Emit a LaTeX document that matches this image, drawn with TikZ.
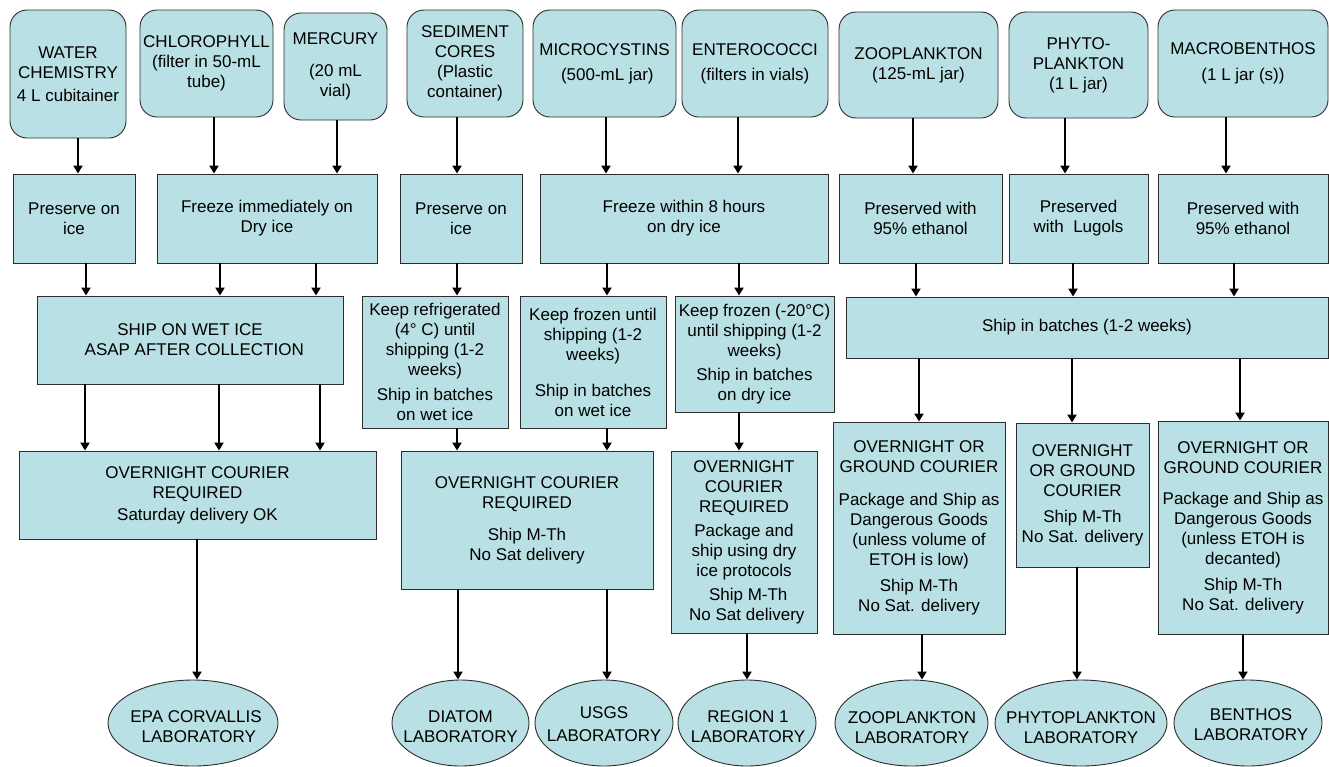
\documentclass[tikz,border=0pt]{standalone}
\usepackage{fontspec}
\setmainfont{Liberation Sans}
\usetikzlibrary{arrows.meta,shapes.geometric}
\definecolor{boxfill}{RGB}{185,224,228}
\definecolor{boxline}{RGB}{45,45,45}
\newcommand{\dfont}{\fontsize{17}{20}\selectfont}
\newcommand{\vconn}[3]{\draw[arr] (#1.south -| #3,0) -- (#2.north -| #3,0);}
\begin{document}
\begin{tikzpicture}[x=1pt,y=-1pt,
  base/.style={draw=boxline, fill=boxfill, line width=0.9pt, align=center, inner sep=1pt, font=\dfont},
  rbox/.style={base, rectangle, rounded corners=17pt},
  sbox/.style={base, rectangle},
  lab/.style={draw=boxline, fill=boxfill, line width=0.9pt, ellipse, inner sep=0pt},
  labtext/.style={align=center, font=\dfont, inner sep=0pt},
  arr/.style={line width=2pt, -{Triangle[width=9pt,length=8pt]}}]
\useasboundingbox (0,0) rectangle (1329,766);

% top row
\node[rbox, minimum width=116pt, minimum height=128pt] (wc) at (68,74) {WATER\\CHEMISTRY\\[3pt]4 L cubitainer};
\node[rbox, minimum width=133pt, minimum height=107pt] (chl) at (206.5,63.5) {CHLOROPHYLL\\(filter in 50-mL\\tube)};
\node[rbox, minimum width=103pt, minimum height=107pt] (hg) at (335.5,66.5) {MERCURY\\[12pt](20 mL\\vial)};
\node[rbox, minimum width=116pt, minimum height=107pt] (sed) at (465,63.5) {SEDIMENT\\CORES\\(Plastic\\container)};
\node[rbox, minimum width=143pt, minimum height=107pt] (mic) at (604.5,63.5) {MICROCYSTINS\\[5pt]\,\,(500-mL jar)};
\node[rbox, minimum width=146pt, minimum height=107pt] (ent) at (755,63.5) {ENTEROCOCCI\\[5pt](filters in vials)};
\node[rbox, minimum width=159pt, minimum height=106pt] (zoo) at (918.5,65) {ZOOPLANKTON\\(125-mL jar)};
\node[rbox, minimum width=139pt, minimum height=106pt] (phy) at (1078.5,65) {PHYTO-\\PLANKTON\\(1 L jar)};
\node[rbox, minimum width=170pt, minimum height=107pt] (mac) at (1243,63.5) {MACROBENTHOS\\[6pt](1 L jar (s))};

% second row
\node[sbox, minimum width=122pt, minimum height=89pt] (pA) at (74,218.5) {Preserve on\\ice};
\node[sbox, minimum width=220pt, minimum height=89pt] (fB) at (267,218.5) {Freeze immediately on\\Dry ice};
\node[sbox, minimum width=122pt, minimum height=89pt] (pC) at (461,218.5) {Preserve on\\ice};
\node[sbox, minimum width=288pt, minimum height=89pt] (fD) at (684,218.5) {Freeze within 8 hours\\on dry ice};
\node[sbox, minimum width=163pt, minimum height=89pt] (eE) at (920.5,218.5) {Preserved with\\95\% ethanol};
\node[sbox, minimum width=139pt, minimum height=89pt] (lF) at (1078.5,218.5) {Preserved\\with~ Lugols};
\node[sbox, minimum width=170pt, minimum height=89pt] (eG) at (1243,218.5) {Preserved with\\95\% ethanol};

% third row
\node[sbox, minimum width=306pt, minimum height=88pt] (shipH) at (190,340) {SHIP ON WET ICE\\\,\,\,ASAP AFTER COLLECTION};
\node[sbox, minimum width=146pt, minimum height=132pt] (refI) at (435,362) {Keep refrigerated\\(4° C) until\\shipping (1-2\\weeks)\\[5pt]Ship in batches\\on wet ice};
\node[sbox, minimum width=146pt, minimum height=132pt] (frzJ) at (593,362) {Keep frozen until\\shipping (1-2\\weeks)\\[16pt]Ship in batches\\on wet ice};
\node[sbox, minimum width=159pt, minimum height=116pt] (frzK) at (754.5,354) {Keep frozen (-20°C)\\until shipping (1-2\\weeks)\\[4pt]Ship in batches\\on dry ice};
\node[sbox, minimum width=482pt, minimum height=61pt] (shipL) at (1087,327.5) {Ship in batches (1-2 weeks)};

% fourth row
\node[sbox, minimum width=357pt, minimum height=88pt] (ovM) at (197.5,495) {OVERNIGHT COURIER\\REQUIRED\\[2pt]Saturday delivery OK};
\node[sbox, minimum width=252pt, minimum height=138pt] (ovN) at (527,520) {OVERNIGHT COURIER\\REQUIRED\\[12pt]Ship M-Th\\No Sat delivery};
\node[sbox, minimum width=146pt, minimum height=182pt] (ovO) at (744,542) {OVERNIGHT\\COURIER\\REQUIRED\\[4pt]Package and\\ship using dry\\ice protocols\\[4pt]\,\,\,Ship M-Th\\\,\,No Sat delivery};
\node[sbox, minimum width=172pt, minimum height=212pt] (ovP) at (919,528) {OVERNIGHT OR\\GROUND COURIER\\[13pt]Package and Ship as\\Dangerous Goods\\(unless volume of\\ETOH is low)\\[6pt]Ship M-Th\\No Sat. delivery};
\node[sbox, minimum width=133pt, minimum height=144pt] (ovQ) at (1082.5,495) {OVERNIGHT\\OR GROUND\\COURIER\\[6pt]Ship M-Th\\No Sat. delivery};
\node[sbox, minimum width=170pt, minimum height=213pt] (ovR) at (1243,527.5) {OVERNIGHT OR\\GROUND COURIER\\[11pt]Package and Ship as\\Dangerous Goods\\(unless ETOH is\\decanted)\\[6pt]Ship M-Th\\No Sat. delivery};

% laboratories
\node[lab, minimum width=170pt, minimum height=86pt] (epa) at (193,723) {};
\node[labtext] (epat) at (196,727) {EPA CORVALLIS\\\,\,LABORATORY};
\node[lab, minimum width=137pt, minimum height=86pt] (dia) at (460.5,723) {};
\node[labtext] (diat) at (460.5,727) {DIATOM\\LABORATORY};
\node[lab, minimum width=138pt, minimum height=86pt] (usgs) at (604,723) {};
\node[labtext] (usgst) at (604,724) {USGS\\[3pt]LABORATORY};
\node[lab, minimum width=138pt, minimum height=86pt] (reg) at (747,723) {};
\node[labtext] (regt) at (748,727) {REGION 1\\LABORATORY};
\node[lab, minimum width=153pt, minimum height=86pt] (zool) at (911.5,723) {};
\node[labtext] (zoolt) at (912,728) {ZOOPLANKTON\\LABORATORY};
\node[lab, minimum width=172pt, minimum height=86pt] (phyl) at (1081,723) {};
\node[labtext] (phylt) at (1081,728) {PHYTOPLANKTON\\LABORATORY};
\node[lab, minimum width=148pt, minimum height=86pt] (benl) at (1248,723) {};
\node[labtext] (benlt) at (1251,725) {BENTHOS\\LABORATORY};

% arrows top -> row 2
\vconn{wc}{pA}{78}
\vconn{chl}{fB}{214}
\vconn{hg}{fB}{337}
\vconn{sed}{pC}{457}
\vconn{mic}{fD}{606}
\vconn{ent}{fD}{738}
\vconn{zoo}{eE}{913}
\vconn{phy}{lF}{1065}
\vconn{mac}{eG}{1226}
% row 2 -> row 3
\vconn{pA}{shipH}{86}
\vconn{fB}{shipH}{220}
\vconn{fB}{shipH}{316}
\vconn{pC}{refI}{457}
\vconn{fD}{frzJ}{607}
\vconn{fD}{frzK}{739}
\vconn{eE}{shipL}{916}
\vconn{lF}{shipL}{1073}
\vconn{eG}{shipL}{1234}
% row 3 -> row 4
\vconn{shipH}{ovM}{85}
\vconn{shipH}{ovM}{219}
\vconn{shipH}{ovM}{320}
\vconn{refI}{ovN}{457}
\vconn{frzJ}{ovN}{607}
\vconn{frzK}{ovO}{739}
\vconn{shipL}{ovP}{919}
\vconn{shipL}{ovQ}{1072}
\vconn{shipL}{ovR}{1240}
% row 4 -> labs
\vconn{ovM}{epa}{197}
\vconn{ovN}{dia}{458}
\vconn{ovN}{usgs}{607}
\vconn{ovO}{reg}{747}
\vconn{ovP}{zool}{922}
\vconn{ovQ}{phyl}{1077}
\vconn{ovR}{benl}{1243}
\end{tikzpicture}
\end{document}
